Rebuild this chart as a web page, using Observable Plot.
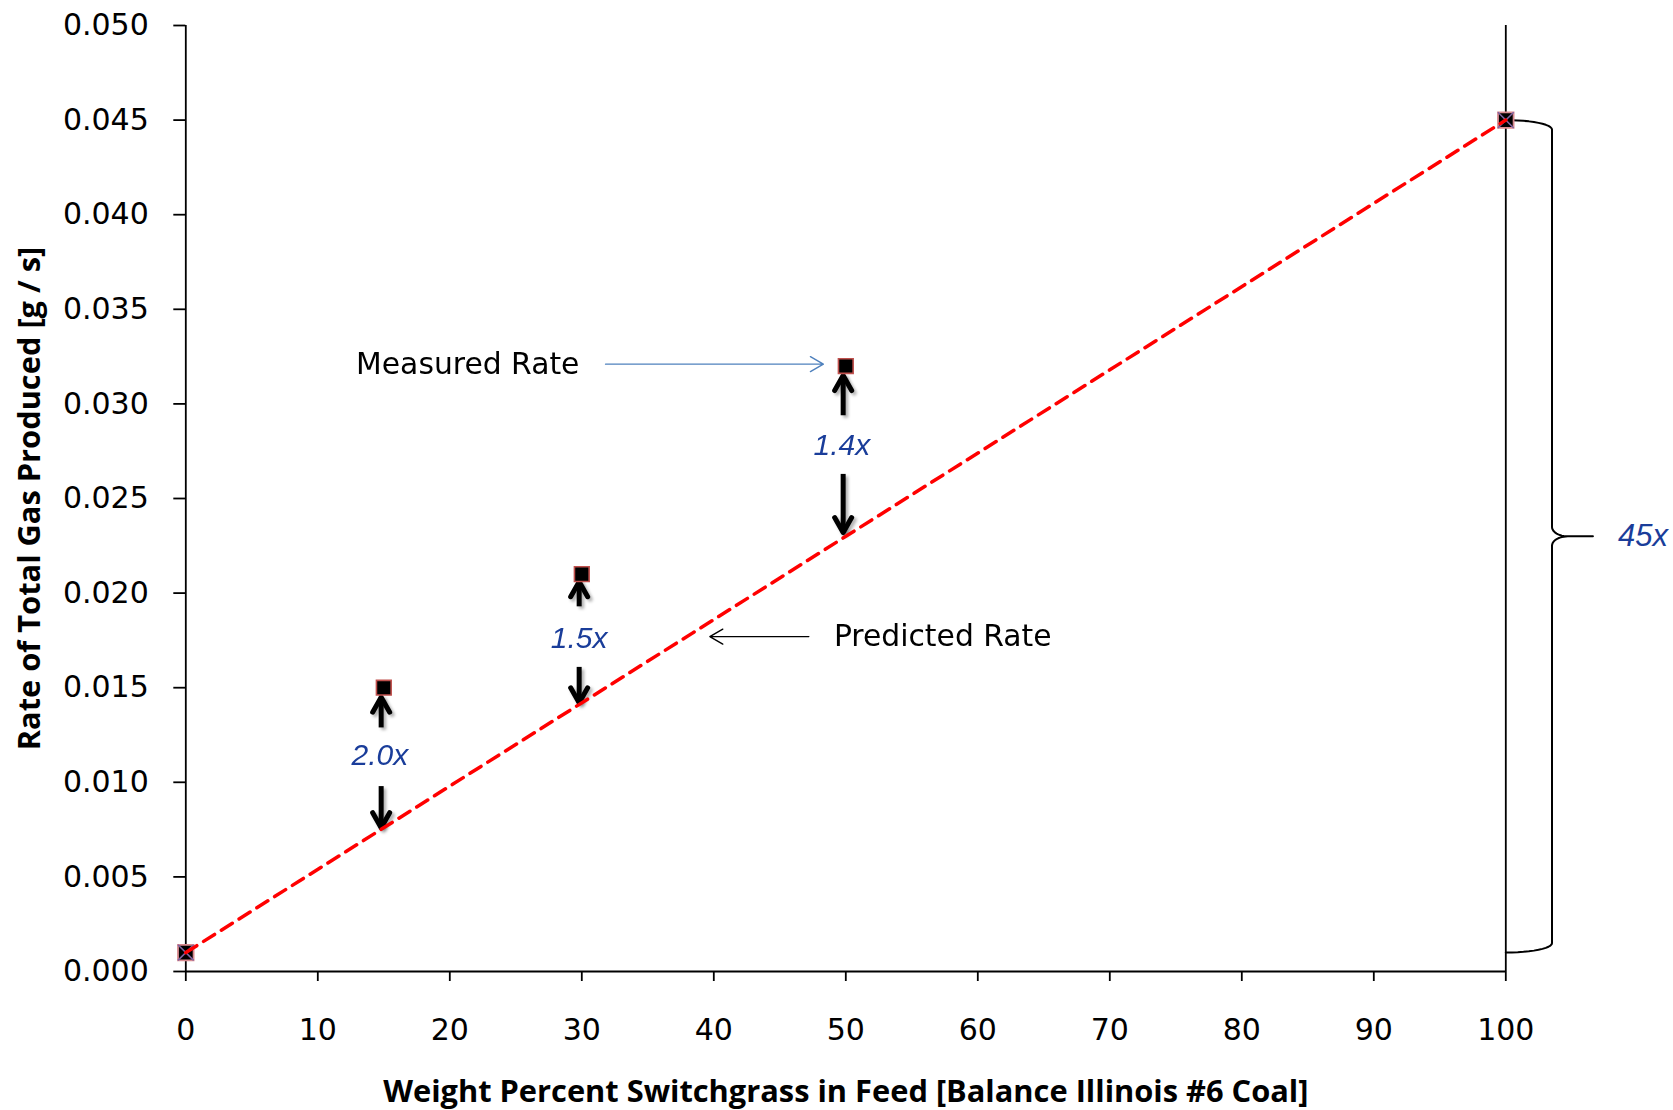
<!DOCTYPE html>
<html><head><meta charset="utf-8">
<script src="https://cdn.jsdelivr.net/npm/d3@7"></script>
<script src="https://cdn.jsdelivr.net/npm/@observablehq/plot@0.6"></script>
<style>body{margin:0;background:#fff}</style>
</head><body><div id="chart"></div>
<script>
// ---- data ----
const xTicks = [0, 10, 20, 30, 40, 50, 60, 70, 80, 90, 100];
const yTicks = [0, 0.005, 0.010, 0.015, 0.020, 0.025, 0.030, 0.035, 0.040, 0.045, 0.050];
const predictedX = [0, 100];
const predictedY = [0.001, 0.045];
const measuredX = [15, 30, 50];
const measuredY = [0.015, 0.021, 0.032];
const ratioLabels = ["2.0x", "1.5x", "1.4x"];
const ratioLabelX = [14.7, 29.8, 49.7];
const ratioLabelY = [0.0114, 0.0176, 0.0278];
const arrowX = [14.8, 29.8, 49.8];
const upTail = [0.0129, 0.0193, 0.0294];
const upTip = [0.0145, 0.0206, 0.0315];
const downTail = [0.0098, 0.0161, 0.0263];
const downTip = [0.0076, 0.0142, 0.0232];
const overallLabel = "45x";
const overallLabelX = 110.4;
const noteTexts = ["Measured Rate", "Predicted Rate"];
const noteX = [12.9, 49.1];
const noteY = [0.0321, 0.0177];
const noteArrowX1 = [31.8, 47.2];
const noteArrowX2 = [48.3, 39.7];
const noteArrowY = [0.0321, 0.0177];
const braceX = 103.5, braceTipX = 106.6;
const xLabel = "Weight Percent Switchgrass in Feed [Balance Illinois #6 Coal]";
const yLabel = "Rate of Total Gas Produced [g / s]";

// ---- derived tables ----
const pred = predictedX.map((x, i) => ({x, y: predictedY[i]}));
const meas = measuredX.map((x, i) => ({x, y: measuredY[i]}));
const ratios = ratioLabels.map((t, i) => ({t, x: ratioLabelX[i], y: ratioLabelY[i]}));
const arrows = arrowX.map((x, i) => ({x, upTail: upTail[i], upTip: upTip[i], downTail: downTail[i], downTip: downTip[i]}));
const notes = noteTexts.map((t, i) => ({t, x: noteX[i], y: noteY[i], x1: noteArrowX1[i], x2: noteArrowX2[i], ya: noteArrowY[i]}));

// brace spanning the predicted end values
const yTop = predictedY[1], yBot = predictedY[0], yMid = (yTop + yBot) / 2;
const brace = [];
{
  const ry = 0.0005, rx2 = 1.2, n = 12;
  for (let k = 0; k <= n; k++) { const t = k / n * Math.PI / 2; brace.push({x: 100 + (braceX - 100) * Math.sin(t), y: yTop - ry + ry * Math.cos(t)}); }
  for (let k = 0; k <= n; k++) { const t = k / n * Math.PI / 2; brace.push({x: braceX + rx2 - rx2 * Math.cos(t), y: yMid + ry - ry * Math.sin(t)}); }
  brace.push({x: braceTipX, y: yMid});
  for (let k = n; k >= 0; k--) { const t = k / n * Math.PI / 2; brace.push({x: braceX + rx2 - rx2 * Math.cos(t), y: yMid - ry + ry * Math.sin(t)}); }
  for (let k = n; k >= 0; k--) { const t = k / n * Math.PI / 2; brace.push({x: 100 + (braceX - 100) * Math.sin(t), y: yBot + ry - ry * Math.cos(t)}); }
}

const chevron = {draw(ctx) { ctx.moveTo(-8.5, 15); ctx.lineTo(0, 0); ctx.lineTo(8.5, 15); }};
const blue = "#1a3d9a";

function thickArrows(extra) {
  return [
    Plot.link(arrows, {x1: "x", x2: "x", y1: "upTail", y2: "upTip", stroke: "black", strokeWidth: 5, ...extra}),
    Plot.link(arrows, {x1: "x", x2: "x", y1: "downTail", y2: "downTip", stroke: "black", strokeWidth: 5, ...extra}),
    Plot.dot(arrows, {x: "x", y: "upTip", symbol: chevron, r: 1, fill: "none", stroke: "black", strokeWidth: 5, strokeLinejoin: "round", strokeLinecap: "round", ...extra}),
    Plot.dot(arrows, {x: "x", y: "downTip", symbol: chevron, r: 1, rotate: 180, fill: "none", stroke: "black", strokeWidth: 5, strokeLinejoin: "round", strokeLinecap: "round", ...extra})
  ];
}

const chart = Plot.plot({
  width: 1673, height: 1110,
  marginLeft: 185.3, marginRight: 1673 - 1505.3, marginTop: 25, marginBottom: 139,
  x: {domain: [0, 100]},
  y: {domain: [0, 0.05]},
  style: {fontFamily: "DejaVu Sans", background: "#fff", overflow: "visible"},
  marks: [
    Plot.ruleX([0, 100], {strokeWidth: 1.8}),
    Plot.ruleY([0], {strokeWidth: 1.8}),
    Plot.axisX(xTicks, {tickSize: 10, tickPadding: 37, fontSize: 30, strokeWidth: 1.8, label: null}),
    Plot.axisY(yTicks, {tickSize: 12, tickPadding: 25, fontSize: 30, strokeWidth: 1.8, tickFormat: d3.format(".3f"), label: null}),
    Plot.line(brace, {x: "x", y: "y", stroke: "black", strokeWidth: 2}),
    ...thickArrows({stroke: "#000", strokeOpacity: 0.3, dx: 2.5, dy: 2.5}),
    ...thickArrows({}),
    Plot.arrow(notes.slice(0, 1), {x1: "x1", x2: "x2", y1: "ya", y2: "ya", stroke: "#4f81bd", strokeWidth: 1.4, headAngle: 60, headLength: 16}),
    Plot.arrow(notes.slice(1), {x1: "x1", x2: "x2", y1: "ya", y2: "ya", stroke: "black", strokeWidth: 1.4, headAngle: 60, headLength: 16}),
    Plot.text(notes, {x: "x", y: "y", text: "t", textAnchor: "start", lineAnchor: "middle", fontSize: 29.8, fill: "black"}),
    Plot.text(ratios, {x: "x", y: "y", text: "t", lineAnchor: "middle", fontSize: 30, fontStyle: "italic", fontFamily: "Liberation Sans", fill: blue}),
    Plot.text([overallLabel], {x: overallLabelX, y: yMid, text: d => d, lineAnchor: "middle", fontSize: 31, fontStyle: "italic", fontFamily: "Liberation Sans", fill: blue}),
    Plot.dot(meas, {x: "x", y: "y", symbol: "square", r: 8.3, fill: "black", stroke: "#c0504d", strokeWidth: 1.6}),
    Plot.dot(pred, {x: "x", y: "y", symbol: "square", r: 8.8, fill: "black", stroke: "#d98a8f", strokeWidth: 1.8}),
    Plot.dot(pred, {x: "x", y: "y", symbol: "times", r: 7.2, stroke: "#8064a2", strokeWidth: 1.6}),
    Plot.line(pred, {x: "x", y: "y", stroke: "#ff0000", strokeWidth: 3.5, strokeDasharray: "13,8"}),
    Plot.text([xLabel], {frameAnchor: "bottom", dy: 130, lineAnchor: "bottom", textAnchor: "middle", text: d => d, fontFamily: "Open Sans", fontWeight: "bold", fontSize: 30.8, fill: "black"}),
    Plot.text([yLabel], {frameAnchor: "left", dx: -146, rotate: -90, lineAnchor: "bottom", textAnchor: "middle", text: d => d, fontFamily: "Open Sans", fontWeight: "bold", fontSize: 30.8, fill: "black"})
  ]
});
document.getElementById("chart").appendChild(chart);

// soft shadow under the thick arrows
const svg = d3.select(chart);
svg.insert("defs", ":first-child").html('<filter id="blur" x="-50%" y="-50%" width="200%" height="200%"><feGaussianBlur stdDeviation="1.8"/></filter>');
svg.selectAll('g[stroke-opacity="0.3"]').attr("filter", "url(#blur)");
</script>
</body></html>
